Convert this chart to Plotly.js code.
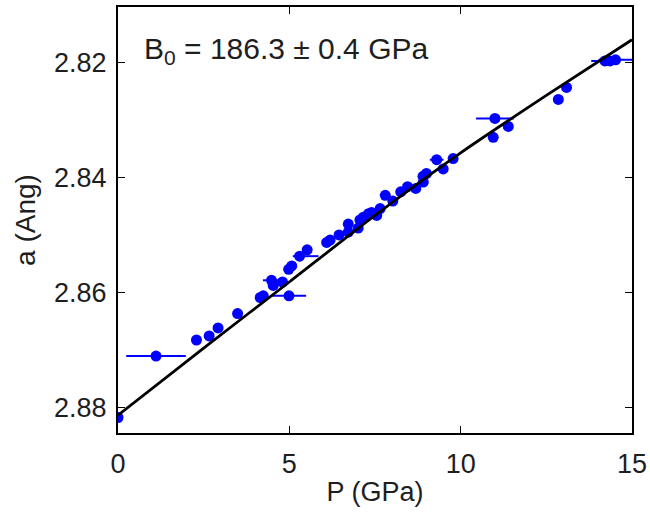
<!DOCTYPE html>
<html>
<head>
<meta charset="utf-8">
<script src="https://cdn.plot.ly/plotly-3.0.1.min.js"></script>
<style>html,body{margin:0;padding:0;background:#fff;}#chart{width:650px;height:516px;}</style>
</head>
<body>
<div id="chart"></div>
<script>
// Measured data: pressure (GPa), lattice parameter a (Angstrom), horizontal error (GPa)
var pressure = [0.00, 1.11, 2.29, 2.66, 2.92, 3.49, 4.15, 4.24, 4.48, 4.53,
                4.80, 4.99, 4.98, 5.07, 5.30, 5.52, 6.09, 6.19, 6.45, 6.72,
                6.72, 7.01, 7.06, 7.16, 7.31, 7.40, 7.55, 7.65, 7.80, 8.02,
                8.25, 8.45, 8.69, 8.90, 9.00, 8.91, 9.30, 9.49, 9.78, 11.00,
                11.39, 10.95, 12.85, 13.09, 14.21, 14.36, 14.52];
var latticeA = [2.8818, 2.8711, 2.8683, 2.8676, 2.8662, 2.8637, 2.8609, 2.8606, 2.8579, 2.8588,
                2.8582, 2.8606, 2.8560, 2.8554, 2.8537, 2.8526, 2.8513, 2.8509, 2.8500, 2.8481,
                2.8495, 2.8488, 2.8474, 2.8469, 2.8463, 2.8461, 2.8466, 2.8454, 2.8431, 2.8441,
                2.8425, 2.8416, 2.8419, 2.8398, 2.8393, 2.8408, 2.8369, 2.8385, 2.8367, 2.8297,
                2.8311, 2.8330, 2.8264, 2.8243, 2.8197, 2.8197, 2.8195];
var errPlus  = [0, 0.87, 0, 0, 0, 0, 0, 0, 0.25, 0,
                0, 0.50, 0, 0, 0.55, 0, 0, 0, 0, 0,
                0, 0, 0, 0.20, 0, 0, 0, 0, 0, 0,
                0, 0, 0, 0, 0, 0, 0.20, 0, 0, 0.55,
                0, 0, 0, 0, 0.40, 0, 0.50];
var errMinus = [0, 0.87, 0, 0, 0, 0, 0, 0, 0.25, 0,
                0, 0.50, 0, 0, 0.20, 0, 0, 0, 0, 0,
                0, 0, 0, 0.20, 0, 0, 0, 0, 0, 0,
                0, 0, 0, 0, 0, 0, 0.20, 0, 0, 0.55,
                0, 0, 0, 0, 0.40, 0, 0.50];

// Fitted equation-of-state curve
var fitP = [0, 2.5, 5, 7.5, 10, 12.5, 15];
var fitA = [2.8814, 2.8697, 2.8582, 2.8466, 2.8357, 2.8257, 2.8160];

var xTicks = [0, 5, 10, 15];
var yTicks = [2.82, 2.84, 2.86, 2.88];
var annotationText = 'B<sub>0</sub> = 186.3 ± 0.4 GPa';

var fontFam = 'Liberation Sans, Arial, Helvetica, sans-serif';
var textCol = '#1e1e1e';

var traces = [
  {
    x: pressure, y: latticeA, type: 'scatter', mode: 'markers',
    marker: {color: 'rgb(0,0,255)', size: 11},
    error_x: {type: 'data', symmetric: false, array: errPlus, arrayminus: errMinus,
              color: 'rgb(0,0,255)', thickness: 2, width: 0},
    showlegend: false, hoverinfo: 'skip'
  },
  {
    x: fitP, y: fitA, type: 'scatter', mode: 'lines',
    line: {color: '#000', width: 2.8, shape: 'spline', smoothing: 0.6},
    showlegend: false, hoverinfo: 'skip'
  }
];

var layout = {
  width: 650, height: 516,
  margin: {l: 118, r: 18, t: 7, b: 83},
  paper_bgcolor: '#fff', plot_bgcolor: '#fff',
  font: {family: fontFam, size: 27, color: textCol},
  xaxis: {
    range: [0, 15], tickvals: xTicks, ticktext: xTicks.map(String),
    ticks: 'inside', ticklen: 7, tickwidth: 1, tickcolor: '#000',
    showline: true, linecolor: '#000', linewidth: 2, mirror: 'ticks',
    showgrid: false, zeroline: false,
    ticklabelstandoff: 6,
    tickfont: {size: 27, color: textCol},
    title: {text: 'P (GPa)', font: {size: 27, color: textCol}, standoff: 4}
  },
  yaxis: {
    range: [2.8845, 2.8103], tickvals: yTicks, ticktext: yTicks.map(function(v){return v.toFixed(2);}),
    ticks: 'inside', ticklen: 7, tickwidth: 1, tickcolor: '#000',
    showline: true, linecolor: '#000', linewidth: 2, mirror: 'ticks',
    showgrid: false, zeroline: false,
    ticklabelstandoff: 4,
    tickfont: {size: 27, color: textCol},
    title: {text: 'a (Ang)', font: {size: 28, color: textCol}, standoff: 10}
  },
  annotations: [{
    text: annotationText, xref: 'paper', yref: 'paper',
    x: 0.046, y: 0.899, xanchor: 'left', yanchor: 'middle', showarrow: false,
    font: {size: 30, color: textCol, family: fontFam}
  }]
};

Plotly.newPlot('chart', traces, layout, {staticPlot: true, displayModeBar: false});
</script>
</body>
</html>
